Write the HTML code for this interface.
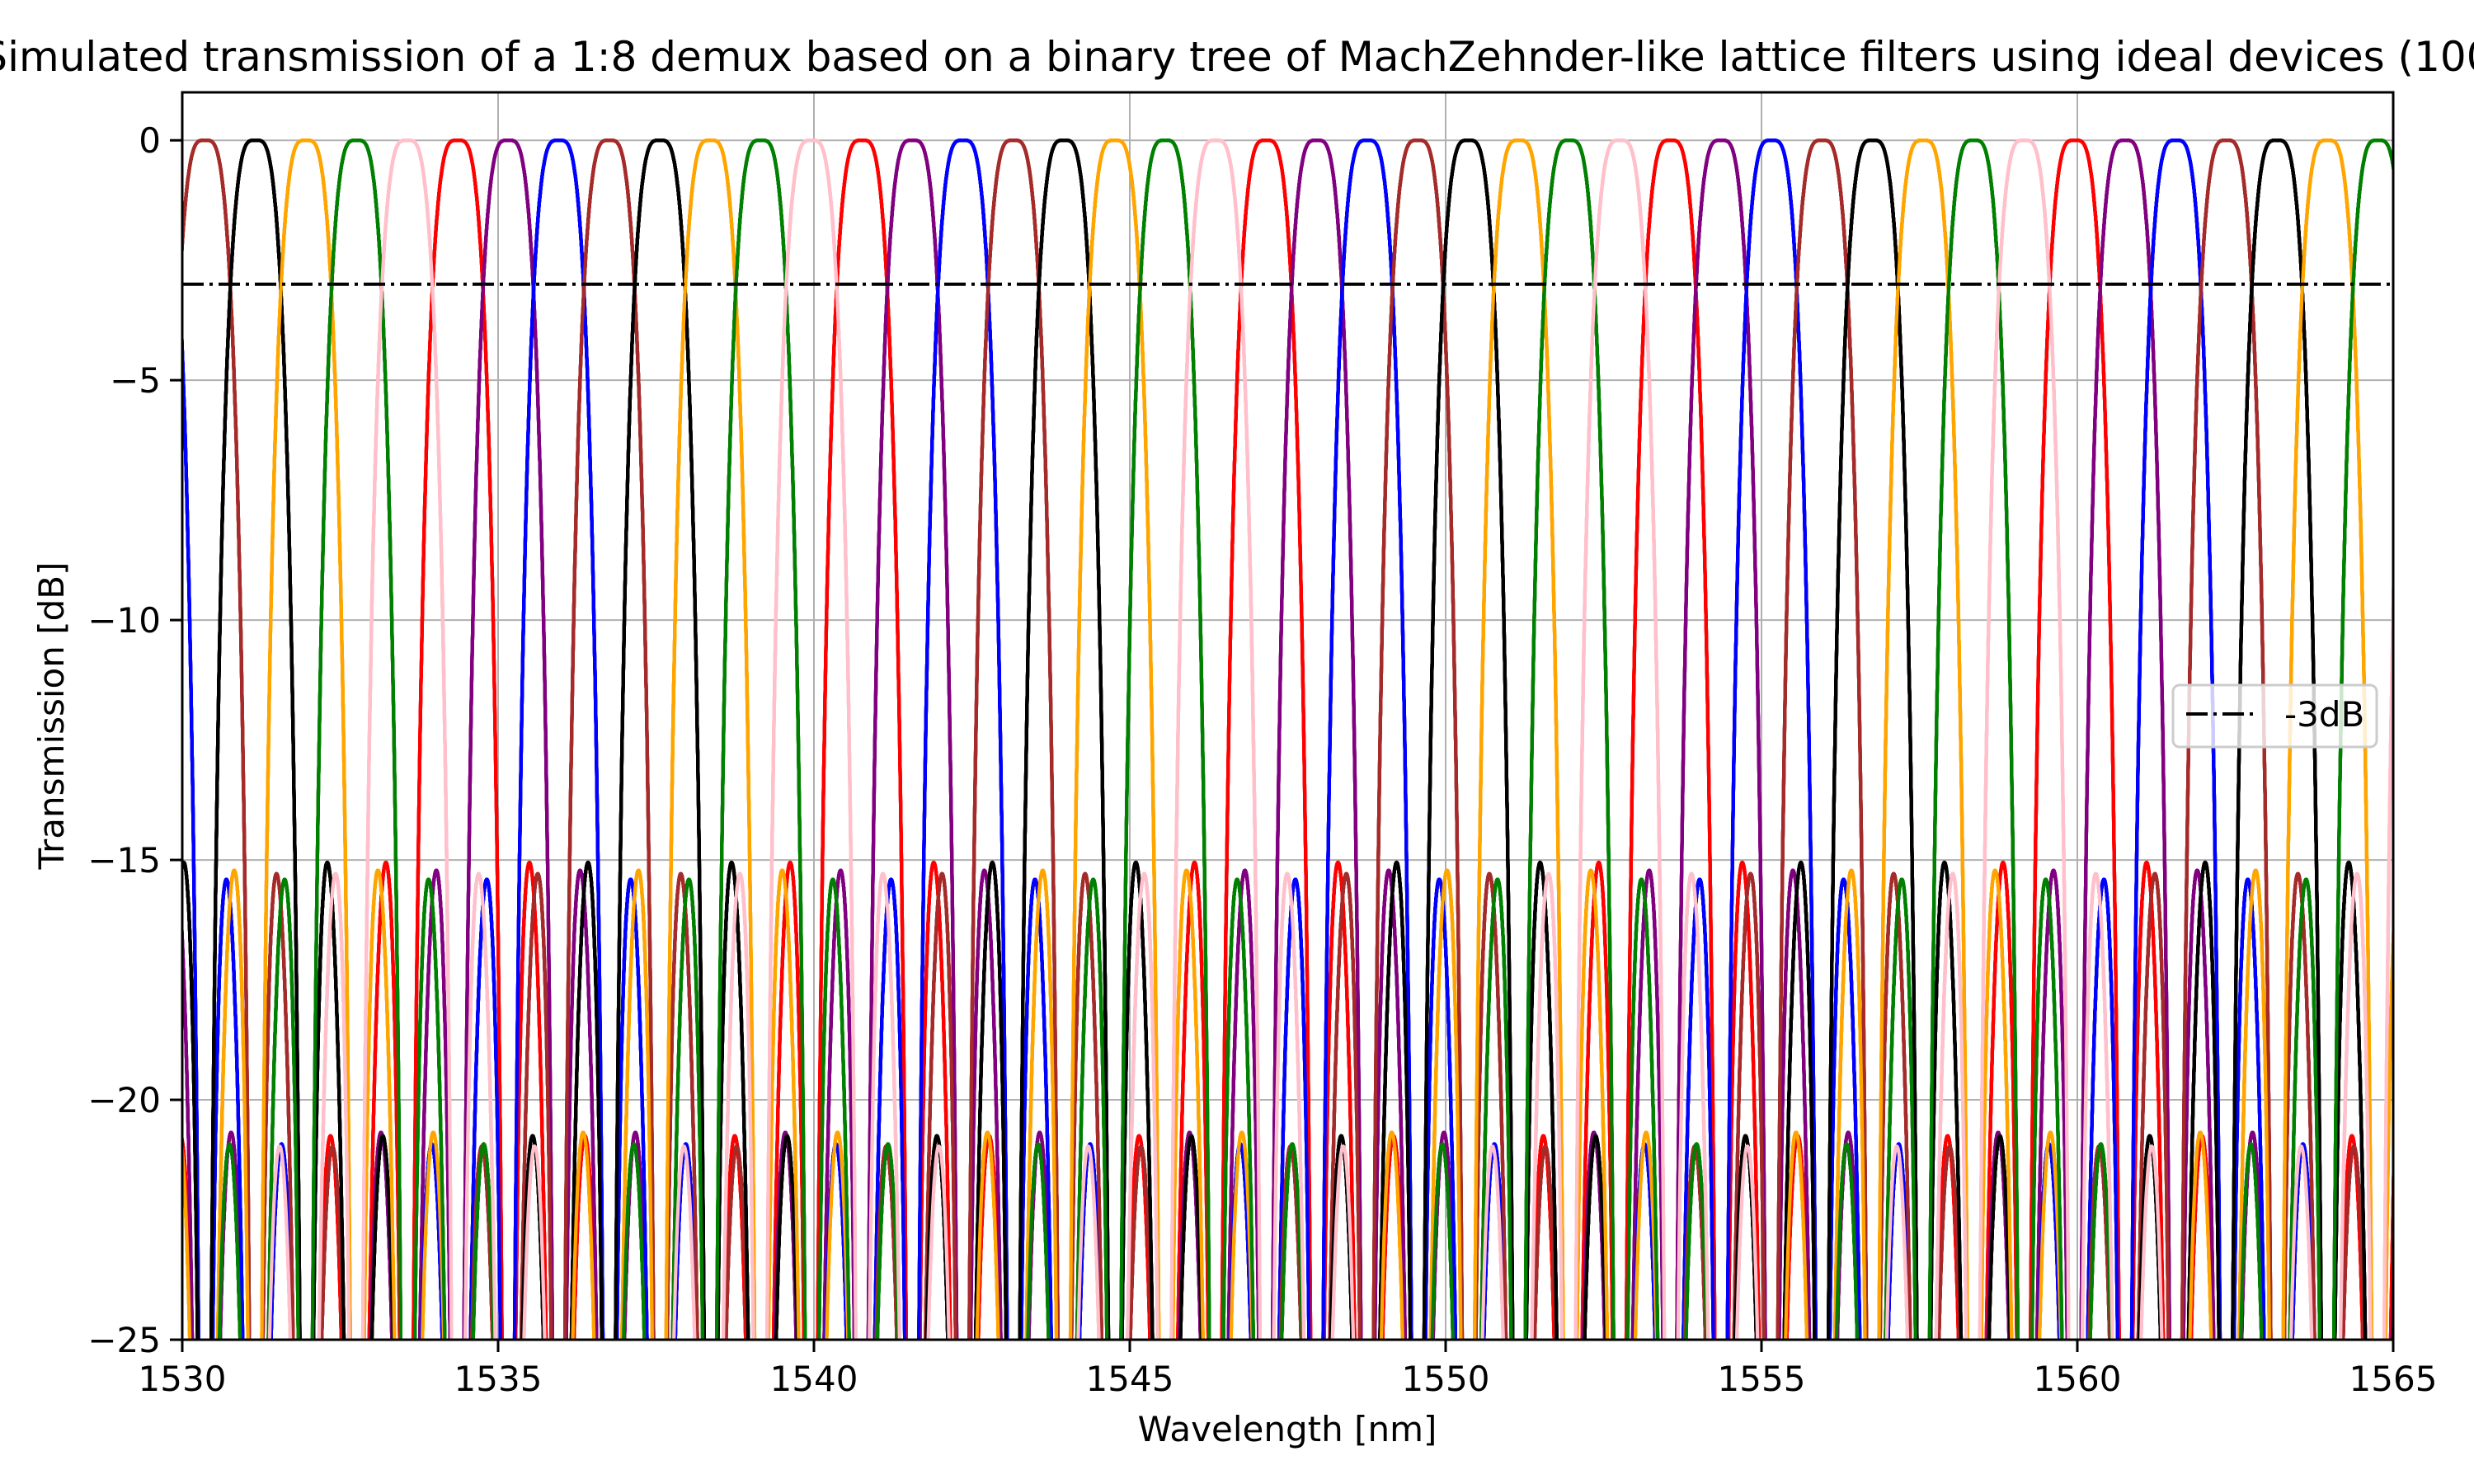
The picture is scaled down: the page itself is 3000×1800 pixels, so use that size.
<!DOCTYPE html>
<html><head><meta charset="utf-8"><style>
html,body{margin:0;padding:0;background:#fff;overflow:hidden}
svg{display:block;font-family:"DejaVu Sans","Liberation Sans",sans-serif}
</style></head><body>
<svg id="chart" width="3000" height="1800" viewBox="0 0 3000 1800" xmlns="http://www.w3.org/2000/svg">
<defs><clipPath id="plotclip"><rect x="221" y="112" width="2681" height="1513"/></clipPath></defs>
<rect x="0" y="0" width="3000" height="1800" fill="#fff"/>
<text x="1561" y="86" font-size="50" text-anchor="middle">Simulated transmission of a 1:8 demux based on a binary tree of MachZehnder-like lattice filters using ideal devices (100GHz)</text>
<g id="grid"></g>
<g id="series" clip-path="url(#plotclip)"></g>
<line id="ref3" stroke="#000" stroke-width="4" stroke-dasharray="26,7,4,7"/>
<rect x="221" y="112" width="2681" height="1513" fill="none" stroke="#000" stroke-width="3"/>
<g id="ticks"></g>
<text x="1561" y="1748" font-size="42" text-anchor="middle">Wavelength [nm]</text>
<text transform="translate(77,868) rotate(-90)" font-size="42" text-anchor="middle">Transmission [dB]</text>
<g>
<rect x="2635" y="831" width="247" height="75" rx="8" fill="#fff" fill-opacity="0.8" stroke="#ccc" stroke-width="3"/>
<line x1="2651" y1="866" x2="2733" y2="866" stroke="#000" stroke-width="4" stroke-dasharray="26,7,4,7"/>
<text x="2770" y="881" font-size="42">-3dB</text>
</g>
</svg>
<script>
const xTicks=[1530,1535,1540,1545,1550,1555,1560,1565];
const yTicks=[0,-5,-10,-15,-20,-25];
const colorCycle=["brown","black","orange","green","pink","red","purple","blue"];
const channelCenters=[1529.56,1530.36,1531.16,1531.96,1532.76,1533.56,1534.36,1535.16,1535.96,1536.76,1537.56,1538.36,1539.16,1539.96,1540.76,1541.56,1542.36,1543.16,1543.96,1544.76,1545.56,1546.36,1547.16,1547.96,1548.76,1549.56,1550.36,1551.16,1551.96,1552.76,1553.56,1554.36,1555.16,1555.96,1556.76,1557.56,1558.36,1559.16,1559.96,1560.76,1561.56,1562.36,1563.16,1563.96,1564.76,1565.56];
const stageFSR=[1.6,3.2,6.4];
const stageLeak=[0.04,0.03,0.03];
const refLevel=-3;
const X0=221,X1=2902,Y0=112,Y1=1625,XMIN=1530,XMAX=1565,YMIN=-25,YMAX=1;
const xs=v=>X0+(v-XMIN)/(XMAX-XMIN)*(X1-X0);
const ys=v=>Y1-(v-YMIN)/(YMAX-YMIN)*(Y1-Y0);
const NS="http://www.w3.org/2000/svg";
const mk=(t,a,p)=>{const e=document.createElementNS(NS,t);for(const k in a)e.setAttribute(k,a[k]);p.appendChild(e);return e;};
const grid=document.getElementById('grid'),ticks=document.getElementById('ticks');
xTicks.forEach(t=>{
 const g=mk('line',{x1:xs(t),x2:xs(t),y1:Y0,y2:Y1,stroke:'#b0b0b0','stroke-width':2},grid);
 
 
 const tk=mk('line',{x1:xs(t),x2:xs(t),y1:Y1,y2:Y1+15,stroke:'#000','stroke-width':3},ticks);
 
 
 const tx=mk('text',{x:xs(t),y:1687,'font-size':42,'text-anchor':'middle'},ticks);
 tx.textContent=t;
 
 
});
yTicks.forEach(t=>{
 const g=mk('line',{x1:X0,x2:X1,y1:ys(t),y2:ys(t),stroke:'#b0b0b0','stroke-width':2},grid);
 
 
 const tk=mk('line',{x1:X0-15,x2:X0,y1:ys(t),y2:ys(t),stroke:'#000','stroke-width':3},ticks);
 
 
 const tx=mk('text',{x:X0-26,y:ys(t)+15,'font-size':42,'text-anchor':'end'},ticks);
 tx.textContent=t<0?'\u2212'+Math.abs(t):t;
 
 
});
const r=document.getElementById('ref3');
r.setAttribute('x1',X0);r.setAttribute('x2',X1);r.setAttribute('y1',ys(refLevel));r.setAttribute('y2',ys(refLevel));
function stage(phi,leak){const c=Math.cos(phi)**2,s=1-c;const t=c*c*(1+2*s);const s2=Math.sin(2*phi)**2;return t+leak*s2*s2*(1-t);}
const series=document.getElementById('series');
channelCenters.forEach((c,i)=>{
 let d='';
 for(let l=XMIN-0.02;l<=XMAX+0.02;l+=0.004){
  let T=1;
  stageFSR.forEach((f,k)=>{T*=stage(Math.PI*(l-c)/f,stageLeak[k]*(0.6+0.25*((i*3+k)%4)));});
  let db=10*Math.log10(Math.max(T,1e-6));
  if(db<-27)db=-27;
  d+=(d?'L':'M')+xs(l).toFixed(1)+','+ys(db).toFixed(1);
 }
 const p=mk('path',{d:d,fill:'none',stroke:colorCycle[(i+7)%8],'stroke-width':4.2,'stroke-linejoin':'round'},series);
 
 
});
</script>
</body></html>
